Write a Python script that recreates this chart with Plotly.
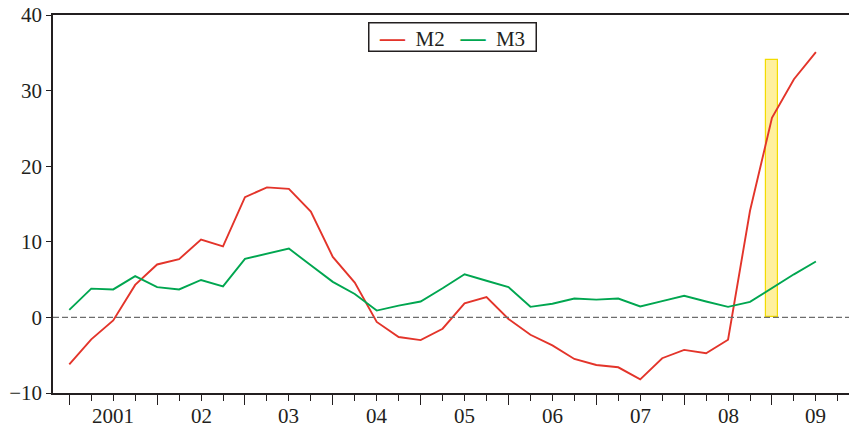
import plotly.graph_objects as go

# quarterly index positions (2001Q1 .. 2009Q3)
quarters = list(range(35))
m2 = [-6.2, -2.9, -0.4, 4.3, 7.0, 7.7, 10.3, 9.4, 15.9, 17.2, 17.0, 14.0, 8.0, 4.6, -0.6,
      -2.6, -3.0, -1.5, 1.85, 2.7, -0.2, -2.3, -3.7, -5.5, -6.3, -6.6, -8.2, -5.4, -4.3,
      -4.75, -2.95, 14.1, 26.4, 31.5, 35.1]
m3 = [1.0, 3.8, 3.7, 5.45, 4.0, 3.7, 4.95, 4.1, 7.75, 8.4, 9.1, 6.9, 4.7, 3.1, 0.9,
      1.55, 2.1, 3.85, 5.7, 4.85, 4.0, 1.4, 1.8, 2.5, 2.35, 2.5, 1.45, 2.15, 2.85, 2.1,
      1.4, 2.05, 3.9, 5.7, 7.4]
year_pos = [2, 6, 10, 14, 18, 22, 26, 30, 34]
year_labels = ["2001", "02", "03", "04", "05", "06", "07", "08", "09"]
highlight_x = [32]
highlight_y = [34]
series_names = ["M2", "M3"]
series_colors = ["#e3342a", "#00a650"]

FONT = "Liberation Serif"
TXT = "#231f20"
xr = [-0.742, 35.69]

fig = go.Figure()
fig.add_trace(go.Bar(x=highlight_x, y=highlight_y, width=0.58,
                     marker=dict(color="#fff09e", line=dict(color="#f2dc00", width=1.2)),
                     showlegend=False, hoverinfo="skip"))
for name, vals, col in zip(series_names, [m2, m3], series_colors):
    fig.add_trace(go.Scatter(x=quarters, y=vals, mode="lines", name=name,
                             line=dict(color=col, width=1.9), showlegend=False))

fig.add_hline(y=0, line=dict(color="#6d6d6d", width=1.3, dash="6px,3px"), layer="above")

# year labels centred between the long (year) ticks
for xp, lab in zip(year_pos, year_labels):
    fig.add_annotation(xref="x", yref="paper", x=xp, y=0, yanchor="middle",
                       yshift=-23, showarrow=False, text=lab,
                       font=dict(family=FONT, size=21, color=TXT))

# legend drawn as a boxed text annotation
legend_text = "&nbsp;&nbsp;&nbsp;".join(
    f"<span style='color:{c};font-size:25px'><b>—</b></span>&nbsp;&nbsp;{n}"
    for n, c in zip(series_names, series_colors))
fig.add_annotation(xref="paper", yref="paper", x=(452 - 53) / 800, y=0.9815,
                   xanchor="center", yanchor="top", showarrow=False,
                   text="&nbsp;&nbsp;" + legend_text + "&nbsp;&nbsp;",
                   font=dict(family=FONT, size=21, color=TXT),
                   bordercolor=TXT, borderwidth=1.5, borderpad=0, bgcolor="white")

fig.update_layout(
    width=853, height=426,
    margin=dict(l=53, r=0, t=15, b=33),
    plot_bgcolor="white", paper_bgcolor="white",
    font=dict(family=FONT, size=21, color=TXT),
    bargap=0, showlegend=False,
    xaxis=dict(range=xr, showgrid=False, zeroline=False, showline=True,
               linecolor=TXT, linewidth=1.5, mirror=True, automargin=False,
               tickmode="array", tickvals=list(range(0, 37, 4)), ticks="outside",
               ticklen=10, tickwidth=1.2, tickcolor=TXT, showticklabels=False,
               minor=dict(dtick=1, tick0=0, ticks="outside", ticklen=6,
                          tickwidth=1.2, tickcolor=TXT, showgrid=False)),
    yaxis=dict(range=[-10, 40], tickvals=[-10, 0, 10, 20, 30, 40], showgrid=False,
               zeroline=False, showline=True, linecolor=TXT, linewidth=1.5,
               automargin=False, mirror=False,
               ticks="outside", ticklen=5, tickwidth=1.2, tickcolor=TXT,
               tickfont=dict(family=FONT, size=21, color=TXT)),
)

fig.write_html("out.html", config={"displayModeBar": False},
               post_script="document.body.style.margin='0';"
                           "document.body.style.overflow='hidden';")
